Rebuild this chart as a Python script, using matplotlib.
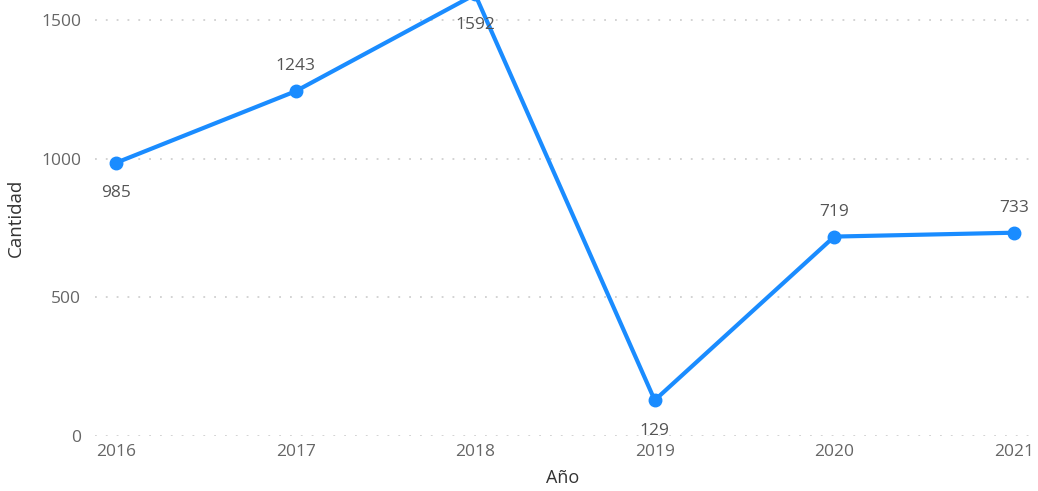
import matplotlib.pyplot as plt

plt.rcParams['font.family'] = ['Open Sans', 'DejaVu Sans']

years = [2016, 2017, 2018, 2019, 2020, 2021]
cantidad = [985, 1243, 1592, 129, 719, 733]
label_above = [False, True, False, False, True, True]
yticks = [0, 500, 1000, 1500]

fig = plt.figure(figsize=(10.38, 4.91), dpi=100)
ax = fig.add_axes([95 / 1038, 55 / 491, 935 / 1038, 436 / 491])

ax.plot(years, cantidad, color='#1a8cff', lw=3.0, marker='o', ms=9,
        solid_joinstyle='miter', zorder=3)

for x, y, up in zip(years, cantidad, label_above):
    ax.annotate(str(y), (x, y), xytext=(0, 18 if up else -22),
                textcoords='offset points', ha='center', va='center',
                fontsize=12.5, color='#555555', zorder=4,
                annotation_clip=False)

ax.set_xlim(2015.883, 2021.09)
ax.set_ylim(0, 1572)
ax.set_xticks(years)
ax.set_yticks(yticks)
ax.tick_params(length=0, labelsize=12.5, labelcolor='#666666')
ax.tick_params(axis='y', pad=10)
ax.tick_params(axis='x', pad=6)
ax.grid(axis='y', color='#d0d0d0', linestyle=(0, (1, 5)), lw=1.3)
ax.set_axisbelow(True)
for s in ax.spines.values():
    s.set_visible(False)

ax.set_xlabel('Año', fontsize=13, color='#333333', labelpad=6)
ax.set_ylabel('Cantidad', fontsize=13.5, color='#333333', labelpad=12)

fig.savefig('out.png', dpi=100)
